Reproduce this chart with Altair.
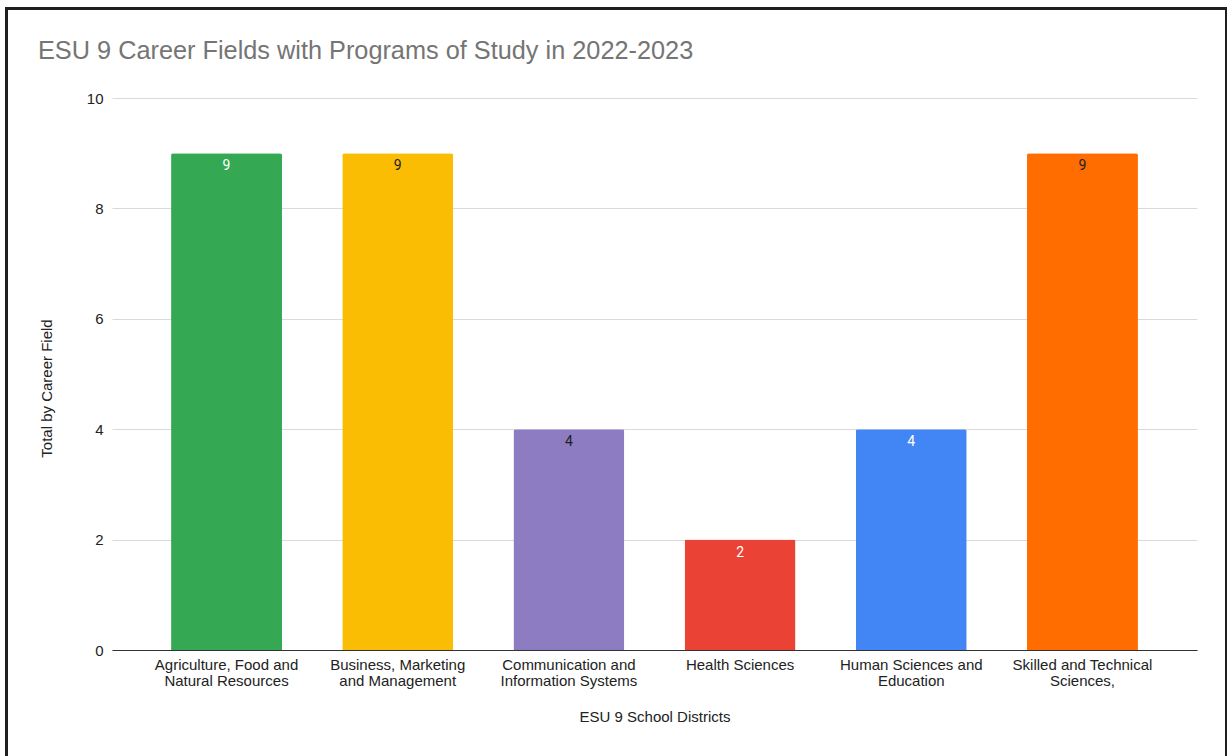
import altair as alt
import pandas as pd

# Career fields (line break marks where the axis label wraps)
fields = [
    "Agriculture, Food and\nNatural Resources",
    "Business, Marketing\nand Management",
    "Communication and\nInformation Systems",
    "Health Sciences",
    "Human Sciences and\nEducation",
    "Skilled and Technical\nSciences,",
]
totals = [9, 9, 4, 2, 4, 9]
bar_colors = ["#34a853", "#fbbc04", "#8e7cc3", "#ea4335", "#4285f4", "#ff6d01"]
label_colors = ["#ffffff", "#202124", "#202124", "#ffffff", "#ffffff", "#202124"]
y_ticks = [0, 2, 4, 6, 8, 10]

df = pd.DataFrame({
    "field": fields,
    "total": totals,
    "bar_color": bar_colors,
    "label_color": label_colors,
})

FONT = "Liberation Sans"
PLOT_W, PLOT_H = 1085, 552
PAD = {"left": 112, "top": 98, "right": 31, "bottom": 106}

base = alt.Chart(df).encode(
    x=alt.X(
        "field:N",
        sort=fields,
        title="ESU 9 School Districts",
        scale=alt.Scale(paddingInner=0.352, paddingOuter=0.345),
        axis=alt.Axis(
            labelExpr="split(datum.label, '\\n')",
            labelAngle=0,
            labelFontSize=15,
            labelLineHeight=16,
            labelColor="#222222",
            labelFont=FONT,
            labelPadding=7,
            labelLimit=400,
            ticks=False,
            domainColor="#333333",
            domainWidth=1.2,
            titleFont=FONT,
            titleFontSize=15,
            titleFontWeight="normal",
            titleColor="#222222",
            titlePadding=21,
        ),
    )
)

bars = base.mark_bar(cornerRadiusTopLeft=2, cornerRadiusTopRight=2).encode(
    y=alt.Y(
        "total:Q",
        title="Total by Career Field",
        scale=alt.Scale(domain=[0, 10], nice=False),
        axis=alt.Axis(
            values=y_ticks,
            format="d",
            ticks=False,
            domain=False,
            gridColor="#dadada",
            gridWidth=1,
            labelFontSize=15,
            labelColor="#222222",
            labelFont=FONT,
            labelPadding=9,
            titleFont=FONT,
            titleFontSize=15,
            titleFontWeight="normal",
            titleColor="#222222",
            titleAngle=-90,
            titleX=-66,
            titleY=290,
            titleAlign="center",
            titleBaseline="middle",
        ),
    ),
    color=alt.Color("bar_color:N", scale=None),
)

values = base.mark_text(baseline="middle", dy=13, fontSize=14, font="Roboto").encode(
    y=alt.Y("total:Q"),
    text=alt.Text("total:Q"),
    color=alt.Color("label_color:N", scale=None),
)

# Heading and surrounding frame, placed relative to the plot origin
one = alt.Chart(pd.DataFrame({"k": [0]}))
heading = one.mark_text(
    text="ESU 9 Career Fields with Programs of Study in 2022-2023",
    align="left",
    baseline="alphabetic",
    fontSize=25.3,
    font=FONT,
    color="#757575",
).encode(x=alt.value(-74), y=alt.value(-39))

frame_left = one.mark_rule(color="#1f1f22", strokeWidth=3).encode(
    x=alt.value(-105.5), y=alt.value(-91), y2=alt.value(700)
)
frame_top = one.mark_rule(color="#1f1f22", strokeWidth=3).encode(
    x=alt.value(-107), x2=alt.value(1115), y=alt.value(-89.5)
)
frame_right = one.mark_rule(color="#1f1f22", strokeWidth=2).encode(
    x=alt.value(1114), y=alt.value(-91), y2=alt.value(700)
)

chart = (
    alt.layer(bars, values, heading, frame_left, frame_top, frame_right)
    .properties(
        width=PLOT_W,
        height=PLOT_H,
        padding=PAD,
        autosize=alt.AutoSizeParams(type="none"),
        background="#ffffff",
    )
    .configure_view(stroke=None)
)

chart.save("out.html", embed_options={"renderer": "svg", "actions": False})
